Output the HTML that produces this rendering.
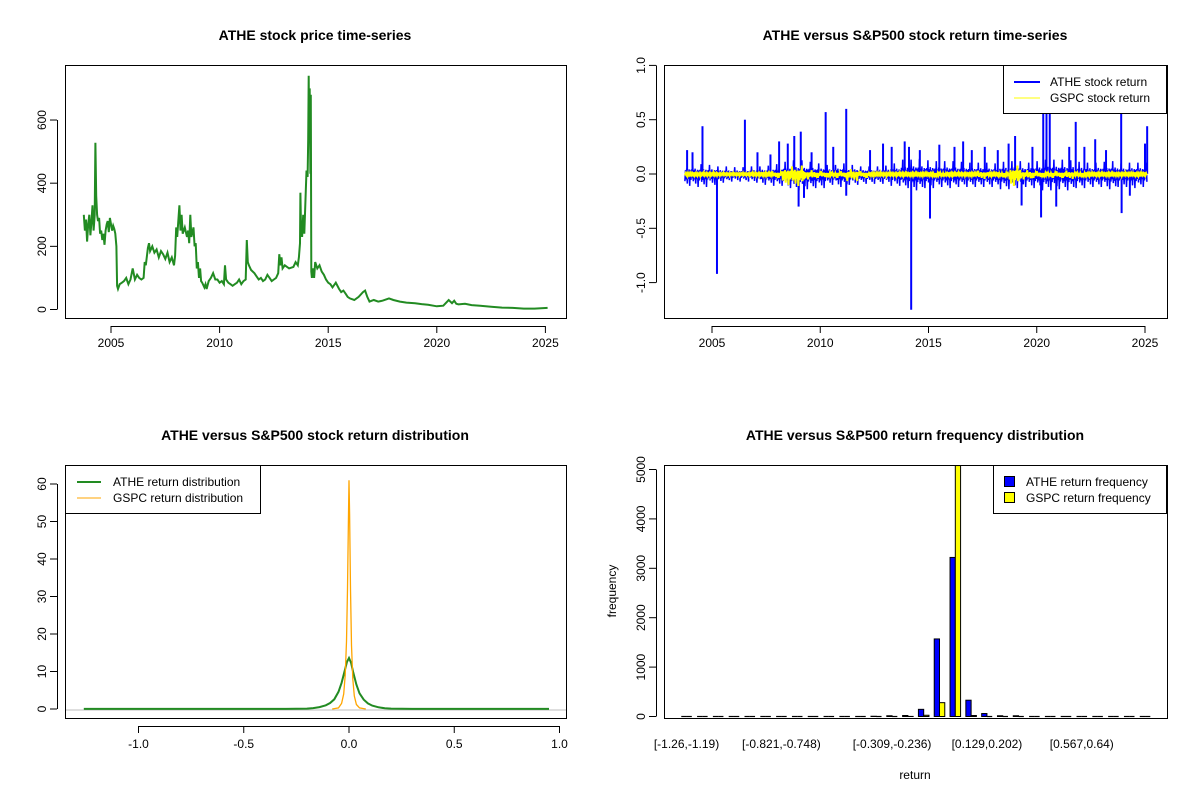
<!DOCTYPE html>
<html><head><meta charset="utf-8"><style>
html,body{margin:0;padding:0;background:#fff;}
svg{display:block;font-family:"Liberation Sans",Arial,sans-serif;}
</style></head><body>
<svg id="s" width="1200" height="800" xmlns="http://www.w3.org/2000/svg"></svg>
<script>
// ---------- DATA ----------
const priceYears=[
2003.75,2003.8,2003.85,2003.9,2003.95,2004.0,2004.05,2004.1,2004.15,2004.2,
2004.25,2004.28,2004.32,2004.36,2004.4,2004.45,2004.5,2004.55,2004.6,2004.65,
2004.7,2004.75,2004.8,2004.85,2004.9,2004.95,2005.0,2005.05,2005.1,2005.15,
2005.2,2005.25,2005.28,2005.32,2005.4,2005.5,2005.6,2005.7,2005.8,2005.9,
2006.0,2006.1,2006.2,2006.3,2006.4,2006.5,2006.55,2006.6,2006.7,2006.75,
2006.8,2006.9,2007.0,2007.1,2007.2,2007.3,2007.4,2007.5,2007.6,2007.7,
2007.8,2007.9,2007.95,2008.0,2008.05,2008.1,2008.15,2008.2,2008.25,2008.3,
2008.4,2008.5,2008.55,2008.6,2008.65,2008.7,2008.8,2008.85,2008.9,2008.95,
2009.0,2009.05,2009.1,2009.15,2009.2,2009.3,2009.35,2009.4,2009.5,2009.6,
2009.7,2009.8,2009.9,2010.0,2010.1,2010.2,2010.25,2010.3,2010.4,2010.5,
2010.6,2010.7,2010.8,2010.9,2011.0,2011.1,2011.2,2011.25,2011.3,2011.35,
2011.45,2011.6,2011.7,2011.8,2011.9,2012.0,2012.1,2012.2,2012.3,2012.4,
2012.5,2012.6,2012.7,2012.75,2012.8,2012.85,2012.9,2013.0,2013.2,2013.4,
2013.5,2013.6,2013.65,2013.7,2013.72,2013.75,2013.8,2013.85,2013.9,2013.95,
2014.0,2014.05,2014.08,2014.1,2014.12,2014.15,2014.18,2014.2,2014.22,2014.25,
2014.3,2014.35,2014.4,2014.5,2014.6,2014.7,2014.8,2014.9,2015.0,2015.1,
2015.2,2015.35,2015.5,2015.6,2015.7,2015.8,2015.9,2016.0,2016.2,2016.4,
2016.6,2016.7,2016.8,2016.9,2017.1,2017.3,2017.5,2017.8,2018.0,2018.3,
2018.6,2019.0,2019.3,2019.6,2020.0,2020.3,2020.55,2020.7,2020.8,2020.9,
2021.0,2021.3,2021.6,2022.0,2022.5,2023.0,2023.5,2024.0,2024.5,2025.1];
const priceVals=[
300,250,285,215,270,300,235,280,330,250,
300,528,360,300,280,290,240,250,220,240,
205,250,270,280,245,290,270,250,265,255,
240,200,75,65,80,85,90,100,80,95,
130,95,110,100,95,100,150,140,195,210,
185,200,180,190,165,185,175,160,180,150,
165,140,170,260,230,280,330,250,300,240,
260,230,250,210,300,230,260,200,210,130,
150,100,130,90,85,70,80,65,90,100,
115,95,95,85,90,80,140,95,85,80,
75,80,85,95,80,90,95,220,150,140,
125,115,105,95,100,90,95,110,100,90,
95,100,115,175,140,165,130,140,130,135,
150,140,165,210,370,260,230,300,240,340,
440,420,540,740,560,700,430,680,120,100,
130,100,150,130,140,120,110,95,85,80,
70,85,65,55,60,50,40,35,30,40,
55,60,40,25,30,25,28,35,30,25,
22,20,17,15,10,12,30,20,28,18,
16,18,14,12,9,6,5,3,3,5];

const retBinStart=2003.75, retBinWidth=0.5;
const atheUp=[0.14,0.13,0.12,0.10,0.09,0.09,0.10,0.11,0.13,0.16,0.18,0.16,0.14,0.12,0.14,0.12,0.10,0.10,0.11,0.14,0.19,0.20,0.18,0.17,0.17,0.16,0.15,0.15,0.14,0.16,0.17,0.15,0.17,0.19,0.19,0.18,0.16,0.15,0.16,0.17,0.14,0.15,0.15];
const atheLo=[-0.11,-0.12,-0.10,-0.08,-0.07,-0.07,-0.08,-0.10,-0.11,-0.13,-0.15,-0.14,-0.13,-0.10,-0.12,-0.10,-0.09,-0.09,-0.09,-0.11,-0.13,-0.15,-0.13,-0.12,-0.13,-0.12,-0.12,-0.12,-0.12,-0.14,-0.13,-0.12,-0.13,-0.15,-0.14,-0.15,-0.13,-0.12,-0.12,-0.14,-0.12,-0.13,-0.12];
const gspcAmp=[0.022,0.018,0.018,0.015,0.015,0.015,0.018,0.022,0.035,0.10,0.11,0.05,0.035,0.03,0.035,0.065,0.035,0.022,0.018,0.018,0.022,0.022,0.022,0.03,0.022,0.018,0.022,0.045,0.022,0.03,0.11,0.05,0.035,0.03,0.035,0.045,0.03,0.022,0.022,0.022,0.018,0.022,0.022];
const spikeYears=[2003.85,2004.1,2004.56,2005.23,2006.52,2007.1,2007.7,2008.1,2008.5,2008.8,2009.0,2009.1,2009.25,2009.6,2010.25,2010.6,2011.2,2011.2,2012.3,2012.9,2013.3,2013.9,2014.1,2014.2,2014.6,2015.07,2015.5,2016.2,2016.6,2017.0,2017.6,2018.2,2018.7,2019.0,2019.3,2019.8,2020.2,2020.3,2020.45,2020.6,2020.9,2021.5,2021.8,2022.2,2022.7,2023.2,2023.9,2023.92,2024.3,2025.0,2025.1];
const spikeVals=[0.22,0.2,0.44,-0.92,0.50,0.2,0.18,0.30,0.28,0.35,-0.30,0.39,-0.22,0.2,0.57,0.25,0.60,-0.2,0.22,0.28,0.25,0.3,0.25,-1.25,0.22,-0.41,0.27,0.25,0.3,0.22,0.25,0.22,0.28,0.35,-0.29,0.25,-0.40,0.90,0.90,0.90,-0.3,0.25,0.48,0.25,0.32,0.22,0.56,-0.36,-0.2,0.28,0.44];

const densX=[-1.26,-0.3,-0.2,-0.17,-0.14,-0.11,-0.09,-0.07,-0.05,-0.035,-0.02,-0.01,0,0.01,0.02,0.035,0.05,0.07,0.09,0.11,0.14,0.17,0.2,0.3,0.95];
const densAthe=[0.02,0.03,0.1,0.25,0.5,1.0,1.6,2.6,4.6,7.0,10.3,12.5,13.6,12.3,9.8,6.5,4.2,2.5,1.5,0.9,0.45,0.2,0.1,0.03,0.02];
const gspcX=[-0.08,-0.05,-0.035,-0.025,-0.018,-0.012,-0.007,-0.003,0,0.003,0.007,0.012,0.018,0.025,0.035,0.05,0.08];
const densGspc=[0,0.3,1.5,4,9,18,32,50,61,52,32,17,8,3.5,1.2,0.3,0];

const binLabels=["[-1.26,-1.19)","[-0.821,-0.748)","[-0.309,-0.236)","[0.129,0.202)","[0.567,0.64)"];
const binLabelIdx=[0,6,13,19,25];
const atheFreq=[0,0,0,0,0,0,0,0,0,0,0,0,5,15,20,145,1570,3220,330,60,15,15,0,0,0,0,0,0,0,0];
const gspcFreq=[0,0,0,0,0,0,0,0,0,0,0,0,0,0,2,25,280,5080,20,0,0,0,0,0,0,0,0,0,0,0];

// ---------- helpers ----------
const S=document.getElementById('s');
const NS='http://www.w3.org/2000/svg';
function mk(tag,attrs,parent){const e=document.createElementNS(NS,tag);for(const k in attrs)e.setAttribute(k,attrs[k]);(parent||S).appendChild(e);return e;}
function txt(x,y,s,size,opts){opts=opts||{};const t=mk('text',{x:x,y:y,'font-size':size,'text-anchor':opts.anchor||'middle','font-weight':opts.bold?'bold':'normal',fill:'#000'});if(opts.rot)t.setAttribute('transform','rotate(-90 '+x+' '+y+')');t.textContent=s;return t;}
function box(x0,y0,x1,y1){return mk('rect',{x:x0+0.5,y:y0+0.5,width:x1-x0,height:y1-y0,fill:'none',stroke:'#000','stroke-width':1});}

// ================= Panel 1: price =================
const p1x=y=>111+(y-2005)*21.72, p1y=v=>309.5-v*0.3158;
let t=txt(315,40,'ATHE stock price time-series',14,{bold:1});

let b=box(65,65,566,318);
let ax=mk('line',{x1:p1x(2005),y1:326.5,x2:p1x(2025),y2:326.5,stroke:'#000'});

[2005,2010,2015,2020,2025].forEach(y=>{mk('line',{x1:p1x(y),y1:326,x2:p1x(y),y2:333,stroke:'#000'});const l=txt(p1x(y),347,String(y),12);});
mk('line',{x1:57.5,y1:p1y(0),x2:57.5,y2:p1y(600),stroke:'#000'});
[0,200,400,600].forEach(v=>{mk('line',{x1:50,y1:p1y(v),x2:57,y2:p1y(v),stroke:'#000'});const l=txt(46,p1y(v),String(v),12,{rot:1});});
let pd=priceYears.map((y,i)=>(i?'L':'M')+p1x(y).toFixed(1)+' '+p1y(priceVals[i]).toFixed(1)).join(' ');
let pl=mk('path',{d:pd,fill:'none',stroke:'#228B22','stroke-width':2});


// ================= Panel 2: returns =================
const p2x=y=>712+(y-2005)*21.65, p2y=v=>174-v*108.6;
t=txt(915,40,'ATHE versus S&P500 stock return time-series',14,{bold:1});

const cp=mk('clipPath',{id:'c2'});mk('rect',{x:664,y:65,width:503,height:253},cp);
const g2=mk('g',{'clip-path':'url(#c2)'});

const pat=[0.6,0.25,0.45,0.35,0.8,0.2,0.4,0.3,1,0.25,0.5,0.3,0.35,0.7];
function zig(up,lo,sc,step){let d='';let k=0;for(let x=p2x(retBinStart);x<=p2x(2025.1);x+=step){const yr=2005+(x-712)/21.65;const bi=Math.min(up.length-1,Math.max(0,Math.floor((yr-retBinStart)/retBinWidth)));const f=pat[k%pat.length];const v=(k%2?up[bi]:lo[bi])*f*sc;d+=(k?'L':'M')+x.toFixed(1)+' '+p2y(v).toFixed(1)+' ';k++;}return d;}
let ath=mk('path',{d:zig(atheUp,atheLo,1,0.6),fill:'none',stroke:'#0000FF','stroke-width':1.5},g2);

spikeYears.forEach((y,i)=>{const s=mk('line',{x1:p2x(y),y1:p2y(0),x2:p2x(y),y2:p2y(spikeVals[i]),stroke:'#0000FF','stroke-width':2},g2);});
const gneg=gspcAmp.map(v=>-v);
let gs=mk('path',{d:zig(gspcAmp,gneg,1,0.7),fill:'none',stroke:'#FFFF00','stroke-width':2},g2);

b=box(664,65,1167,318);
mk('line',{x1:p2x(2005),y1:326.5,x2:p2x(2025),y2:326.5,stroke:'#000'});
[2005,2010,2015,2020,2025].forEach(y=>{mk('line',{x1:p2x(y),y1:326,x2:p2x(y),y2:333,stroke:'#000'});const l=txt(p2x(y),347,String(y),12);});
mk('line',{x1:656.5,y1:p2y(-1),x2:656.5,y2:p2y(1),stroke:'#000'});
[-1,-0.5,0,0.5,1].forEach(v=>{mk('line',{x1:649,y1:p2y(v),x2:656,y2:p2y(v),stroke:'#000'});const l=txt(645,p2y(v),v.toFixed(1),12,{rot:1});});
let lg=mk('g',{});
mk('rect',{x:1003.5,y:65.5,width:163,height:48,fill:'#fff',stroke:'#000'},lg);
mk('line',{x1:1014,y1:82,x2:1040,y2:82,stroke:'#0000FF','stroke-width':2},lg);
mk('line',{x1:1014,y1:98,x2:1040,y2:98,stroke:'#FFFF00','stroke-width':1},lg);
lg.appendChild(txt(1050,86,'ATHE stock return',12,{anchor:'start'}));
lg.appendChild(txt(1050,102,'GSPC stock return',12,{anchor:'start'}));

// ================= Panel 3: density =================
const p3x=v=>349+v*210.5, p3y=v=>709-v*3.75;
t=txt(315,440,'ATHE versus S&P500 stock return distribution',14,{bold:1});

let zl=mk('line',{x1:65,y1:p3y(0)+1,x2:566,y2:p3y(0)+1,stroke:'#BEBEBE'});

let dd=densX.map((x,i)=>(i?'L':'M')+p3x(x).toFixed(1)+' '+p3y(densAthe[i]).toFixed(1)).join(' ');
let dl=mk('path',{d:dd,fill:'none',stroke:'#228B22','stroke-width':2});

dd=gspcX.map((x,i)=>(i?'L':'M')+p3x(x).toFixed(1)+' '+p3y(densGspc[i]).toFixed(1)).join(' ');
dl=mk('path',{d:dd,fill:'none',stroke:'#FFA500','stroke-width':1.3});

b=box(65,465,566,718);
mk('line',{x1:p3x(-1),y1:726.5,x2:p3x(1),y2:726.5,stroke:'#000'});
[-1,-0.5,0,0.5,1].forEach(v=>{mk('line',{x1:p3x(v),y1:726,x2:p3x(v),y2:733,stroke:'#000'});const l=txt(p3x(v),748,v.toFixed(1),12);});
mk('line',{x1:57.5,y1:p3y(0),x2:57.5,y2:p3y(60),stroke:'#000'});
[0,10,20,30,40,50,60].forEach(v=>{mk('line',{x1:50,y1:p3y(v),x2:57,y2:p3y(v),stroke:'#000'});const l=txt(46,p3y(v),String(v),12,{rot:1});});
lg=mk('g',{});
mk('rect',{x:65.5,y:465.5,width:195,height:48,fill:'#fff',stroke:'#000'},lg);
mk('line',{x1:77,y1:482,x2:101,y2:482,stroke:'#228B22','stroke-width':2},lg);
mk('line',{x1:77,y1:498,x2:101,y2:498,stroke:'#FFA500','stroke-width':1},lg);
lg.appendChild(txt(113,486,'ATHE return distribution',12,{anchor:'start'}));
lg.appendChild(txt(113,502,'GSPC return distribution',12,{anchor:'start'}));

// ================= Panel 4: histogram =================
const u=5.27, bx0=676;
const p4y=v=>716.5-v*0.0494;
t=txt(915,440,'ATHE versus S&P500 return frequency distribution',14,{bold:1});

const cp4=mk('clipPath',{id:'c4'});mk('rect',{x:664,y:465,width:503,height:253},cp4);
const g4=mk('g',{'clip-path':'url(#c4)'});
function bar(x,v,col,name){
  if(v<=0){const l=mk('line',{x1:x,y1:p4y(0),x2:x+u,y2:p4y(0),stroke:'#000','stroke-width':1.2},g4);return;}
  const r=mk('rect',{x:x,y:p4y(v),width:u,height:p4y(0)-p4y(v),fill:col,stroke:'#000','stroke-width':1},g4);
  
}
atheFreq.forEach((v,i)=>{bar(bx0+(3*i+1)*u,v,'#0000FF','athe-frequency-bar');});
gspcFreq.forEach((v,i)=>{bar(bx0+(3*i+2)*u,v,'#FFFF00','gspc-frequency-bar');});
b=box(664,465,1167,718);
binLabelIdx.forEach((idx,i)=>{const l=txt(bx0+(3*idx+2)*u,748,binLabels[i],12);});
mk('line',{x1:656.5,y1:p4y(0),x2:656.5,y2:p4y(5000),stroke:'#000'});
[0,1000,2000,3000,4000,5000].forEach(v=>{mk('line',{x1:649,y1:p4y(v),x2:656,y2:p4y(v),stroke:'#000'});const l=txt(645,p4y(v),String(v),12,{rot:1});});
t=txt(915,779,'return',12);
t=txt(616,591,'frequency',12,{rot:1});
lg=mk('g',{});
mk('rect',{x:993.5,y:465.5,width:173,height:48,fill:'#fff',stroke:'#000'},lg);
mk('rect',{x:1004.5,y:476.5,width:10,height:10,fill:'#0000FF',stroke:'#000'},lg);
mk('rect',{x:1004.5,y:492.5,width:10,height:10,fill:'#FFFF00',stroke:'#000'},lg);
lg.appendChild(txt(1026,486,'ATHE return frequency',12,{anchor:'start'}));
lg.appendChild(txt(1026,502,'GSPC return frequency',12,{anchor:'start'}));
</script>
</body></html>
